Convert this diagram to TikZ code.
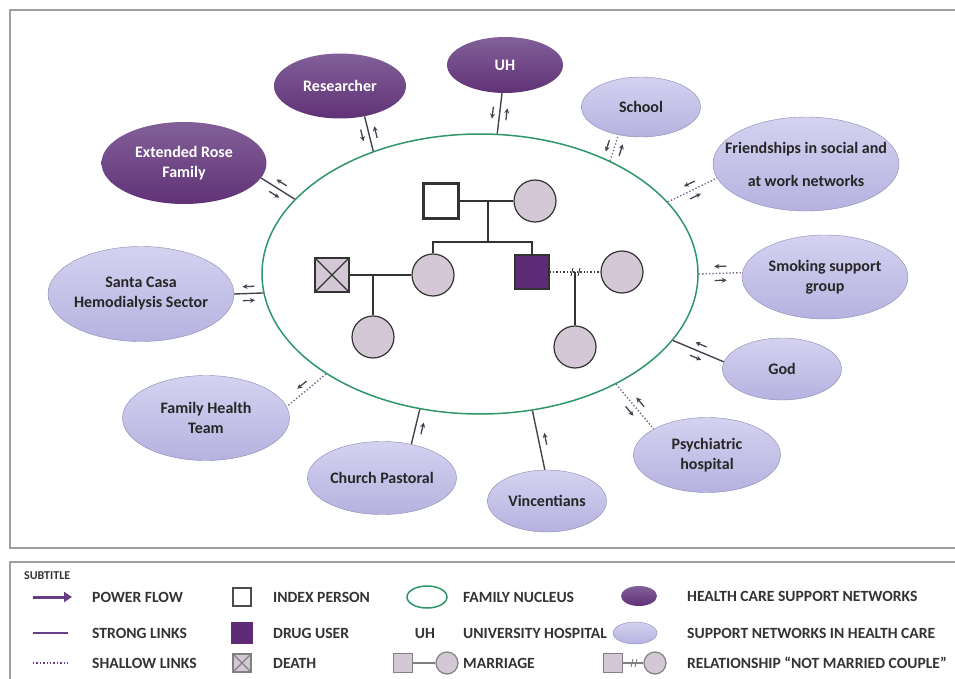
\documentclass[tikz,border=0pt]{standalone}
\usepackage{fontspec}
\setmainfont{Carlito}
\usetikzlibrary{shapes.geometric,arrows.meta,decorations.markings,calc}

\definecolor{hcdark}{RGB}{96,50,118}
\definecolor{hctop}{RGB}{130,96,152}
\definecolor{snlight}{RGB}{182,178,224}
\definecolor{sntop}{RGB}{212,210,240}
\definecolor{snedge}{RGB}{140,136,175}
\definecolor{nucgreen}{RGB}{46,150,105}
\definecolor{pedfill}{RGB}{212,200,214}
\definecolor{druguser}{RGB}{94,44,118}
\definecolor{linkgray}{RGB}{72,64,78}
\definecolor{shallowc}{RGB}{125,105,140}
\definecolor{framegray}{RGB}{160,160,160}
\definecolor{legpurple}{RGB}{106,62,132}

\begin{document}
\begin{tikzpicture}[x=1pt, y=-1pt,
  net/.style={ellipse, inner xsep=-20pt, inner ysep=0pt, align=center, font=\bfseries\fontsize{16}{20}\selectfont},
  hcnet/.style={net, top color=hctop, bottom color=hcdark, text=white},
  supnet/.style={net, draw=snedge, top color=sntop, bottom color=snlight, text=black!85},
  nucleus/.style={ellipse, draw=nucgreen, line width=1.5pt},
  person/.style={draw=black!80, line width=1.2pt, inner sep=0pt},
  female/.style={person, circle, fill=pedfill, minimum size=42pt},
  male/.style={person, rectangle, minimum size=34pt},
  kin/.style={draw=black!80, line width=1.2pt},
  strong/.style={draw=linkgray, line width=1.4pt},
  shallow/.style={draw=shallowc, line width=1.4pt, dotted},
  flowtip/.style={draw=linkgray, solid, line width=1.3pt, -{Stealth[length=5pt,width=5pt]}},
  twoway/.style={postaction={decorate, decoration={markings, mark=at position 0.5 with {
      \draw[flowtip] (6pt,7pt) -- (-6pt,7pt);
      \draw[flowtip] (-6pt,-7pt) -- (6pt,-7pt);}}}},
  inward/.style={postaction={decorate, decoration={markings, mark=at position 0.5 with {
      \draw[flowtip] (6pt,7pt) -- (-6pt,7pt);}}}},
  outward/.style={postaction={decorate, decoration={markings, mark=at position 0.5 with {
      \draw[flowtip] (-6pt,-7pt) -- (6pt,-7pt);}}}},
  legtext/.style={anchor=west, inner sep=0pt, text=black!80, font=\bfseries\fontsize{15.6}{18}\selectfont},
  frame/.style={draw=framegray, line width=1.5pt}
]
\useasboundingbox (0,0) rectangle (955,679);
\draw[frame] (10,10) rectangle (962,548);
\draw[frame] (10,562) rectangle (962,684);

% family nucleus
\node[nucleus, minimum width=436pt, minimum height=280pt] (nuc) at (480,274) {};

% genogram
\node[male, fill=white, line width=3pt, minimum size=35pt] (idx) at (441,201) {};
\node[female] (gma) at (535,201) {};
\node[female] (mom) at (433,275) {};
\node[male, fill=druguser] (son) at (532,272) {};
\node[male, fill=pedfill] (dead) at (332,275) {};
\node[female] (girl) at (373,337) {};
\node[female] (partner) at (622,272) {};
\node[female] (kid) at (575,347) {};
\coordinate (rel) at (575,272);

\draw[kin] (idx) -- (gma);
\draw[kin] ($(idx)!0.5!(gma)$) -- ++(0,41) coordinate (sibs);
\draw[kin] (mom.north) |- (sibs) -| (son.north);
\draw[kin] (dead.north west) -- (dead.south east) (dead.north east) -- (dead.south west);
\draw[kin] (dead) -- (mom);
\draw[kin] (girl) -- (girl |- mom);
\draw[shallow, draw=linkgray] (son) -- (partner);
\draw[kin] (kid) -- (rel);
\draw[kin, line width=0.9pt] ($(rel)+(-2,-4)$) -- ++(-2,8) ($(rel)+(5,-4)$) -- ++(-2,8);

% networks
\node[hcnet, minimum width=165pt, minimum height=82pt] (rose) at (184,163) {Extended Rose\\Family};
\node[hcnet, minimum width=132pt, minimum height=65pt] (res) at (340,86) {Researcher};
\node[hcnet, minimum width=116pt, minimum height=56pt] (uh) at (505,65) {UH};
\node[supnet, minimum width=119pt, minimum height=60pt] (school) at (641,107) {School};
\node[supnet, minimum width=186pt, minimum height=94pt] (friends) at (806,164) {Friendships in social and\\[13pt]at work networks};
\node[supnet, minimum width=166pt, minimum height=84pt] (smoke) at (825,277) {Smoking support\\group};
\node[supnet, minimum width=119pt, minimum height=62pt] (god) at (782,369) {God};
\node[supnet, minimum width=147pt, minimum height=75pt] (psych) at (707,455) {Psychiatric\\hospital};
\node[supnet, minimum width=119pt, minimum height=62pt] (vinc) at (547,501) {Vincentians};
\node[supnet, minimum width=149pt, minimum height=73pt] (church) at (382,478) {Church Pastoral};
\node[supnet, minimum width=167pt, minimum height=85pt] (fht) at (206,418) {Family Health\\Team};
\node[supnet, minimum width=186pt, minimum height=95pt] (casa) at (141,294) {Santa Casa\\Hemodialysis Sector};

% links
\draw[strong, twoway] (nuc.158) -- (rose.-11);
\draw[strong, twoway] (nuc.131) -- (res.-51);
\draw[strong, twoway] (nuc.83) -- (uh.-96);
\draw[shallow, twoway] (nuc.41) -- (school.-129);
\draw[shallow, twoway] (nuc.21) -- (friends.189);
\draw[shallow, twoway] (nuc.0) -- (smoke.177);
\draw[strong, twoway] (nuc.-19) -- (god.173);
\draw[shallow, twoway] (nuc.-39) -- (psych.154);
\draw[strong, inward] (nuc.-69) -- (vinc.94);
\draw[strong, inward] (nuc.246) -- (church.49);
\draw[shallow, outward] (nuc.213) -- (fht.8);
\draw[strong, twoway] (nuc.185) -- (casa.0);

% subtitle
\node[legtext, font=\bfseries\fontsize{12}{14}\selectfont] (subt) at (24,576) {SUBTITLE};

\node[legtext] (lpf) at (92,597) {POWER FLOW};
\node[legtext] (lsl) at (92,633) {STRONG LINKS};
\node[legtext] (lsh) at (92,663) {SHALLOW LINKS};
\draw[draw=legpurple, line width=3pt, -{Triangle[length=8pt,width=10pt]}] ([xshift=-59pt]lpf.west) -- ([xshift=-20pt]lpf.west);
\draw[draw=legpurple, line width=1.5pt] ([xshift=-59pt]lsl.west) -- ([xshift=-24pt]lsl.west);
\draw[shallow, draw=legpurple] ([xshift=-59pt]lsh.west) -- ([xshift=-24pt]lsh.west);

\node[male, fill=white, line width=1.8pt, draw=black!70, minimum size=18pt] (lidx) at (242,597) {};
\node[male, fill=druguser, draw=druguser, minimum size=20pt] (ldrug) at (242,633) {};
\node[male, fill=pedfill, draw=black!50, minimum size=18pt] (ldeath) at (242,663) {};
\draw[kin, draw=black!50] (ldeath.north west) -- (ldeath.south east) (ldeath.north east) -- (ldeath.south west);
\node[legtext] at (273,597) {INDEX PERSON};
\node[legtext] at (273,633) {DRUG USER};
\node[legtext] at (273,663) {DEATH};

\node[nucleus, minimum width=40pt, minimum height=22pt] (lnuc) at (427,597) {};
\node[legtext, anchor=center] (luh) at (425,633) {UH};
\node[male, fill=pedfill, draw=black!50, minimum size=19pt] (lms) at (403,663) {};
\node[female, draw=black!50, minimum size=22pt] (lmc) at (447,663) {};
\draw[kin, draw=black!50] (lms) -- (lmc);
\node[legtext] at (463,597) {FAMILY NUCLEUS};
\node[legtext] at (463,633) {UNIVERSITY HOSPITAL};
\node[legtext] at (463,663) {MARRIAGE};

\node[hcnet, minimum width=36pt, minimum height=20pt] (lhc) at (639,596) {};
\node[supnet, minimum width=44pt, minimum height=22pt] (lsn) at (635,633) {};
\node[male, fill=pedfill, draw=black!50, minimum size=19pt] (lns) at (613,663) {};
\node[female, draw=black!50, minimum size=22pt] (lnc) at (655,663) {};
\draw[kin, draw=black!50] (lns) -- (lnc);
\draw[kin, draw=black!50, line width=0.9pt] ($(lns)!0.5!(lnc)+(-1,-4)$) -- ++(-2,8) ($(lns)!0.5!(lnc)+(3,-4)$) -- ++(-2,8);
\node[legtext] at (687,596) {HEALTH CARE SUPPORT NETWORKS};
\node[legtext] at (687,633) {SUPPORT NETWORKS IN HEALTH CARE};
\node[legtext] at (687,663) {RELATIONSHIP “NOT MARRIED COUPLE”};
\end{tikzpicture}
\end{document}
